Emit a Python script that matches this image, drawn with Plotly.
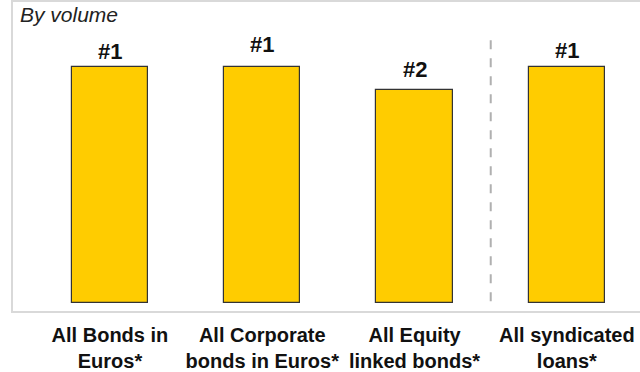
import plotly.graph_objects as go

# League table positions, by volume
categories = [
    "All Bonds in<br>Euros*",
    "All Corporate<br>bonds in Euros*",
    "All Equity<br>linked bonds*",
    "All syndicated<br>loans*",
]
volume_index = [100, 100, 90, 100]
ranks = ["#1", "#1", "#2", "#1"]

# small per-bar nudges of the rank labels, as in the original slide
label_shift = [1, 8, 6, 2]

FONT = "Liberation Sans, Arial, sans-serif"
x_pos = list(range(len(categories)))

fig = go.Figure()

fig.add_trace(
    go.Bar(
        x=x_pos,
        y=volume_index,
        width=0.5,
        marker=dict(color="#FFCC00", line=dict(color="#333333", width=1.2)),
        hoverinfo="skip",
    )
)

# rank labels above the bars
for x, v, r, s in zip(x_pos, volume_index, ranks, label_shift):
    fig.add_annotation(
        x=x, y=v, text=f"<b>{r}</b>", showarrow=False,
        yanchor="bottom", yshift=s,
        font=dict(family=FONT, size=22, color="#111111"),
    )

# dashed separator between bonds and loans
fig.add_shape(
    type="line", x0=2.5, x1=2.5, y0=0.8, y1=111.5,
    line=dict(color="#b0b0b0", width=2, dash="dash"),
)

# light frame round the plot (open on the right)
fig.add_shape(
    type="rect", xref="paper", yref="paper", x0=0, x1=1.05, y0=0, y1=1,
    line=dict(color="#d9d9d9", width=2), layer="below",
)

fig.add_annotation(
    xref="paper", yref="paper", x=0.009, y=1.0, xanchor="left", yanchor="top",
    text="<i>By volume</i>", showarrow=False,
    font=dict(family=FONT, size=21, color="#222222"),
)

fig.update_layout(
    width=640,
    height=372,
    margin=dict(l=12, r=0, t=1, b=58),
    paper_bgcolor="white",
    plot_bgcolor="white",
    showlegend=False,
    bargap=0,
    xaxis=dict(
        range=[-0.643, 3.48],
        tickvals=x_pos,
        ticktext=[f"<b>{c}</b>" for c in categories],
        tickfont=dict(family=FONT, size=20, color="#111111"),
        ticklabelstandoff=9,
        showgrid=False, zeroline=False, showline=False, ticks="",
    ),
    yaxis=dict(
        range=[-3.8, 127.85],
        visible=False,
    ),
)

fig.write_html(
    "out.html",
    config={"displayModeBar": False},
    post_script="document.body.style.margin='0';",
)
